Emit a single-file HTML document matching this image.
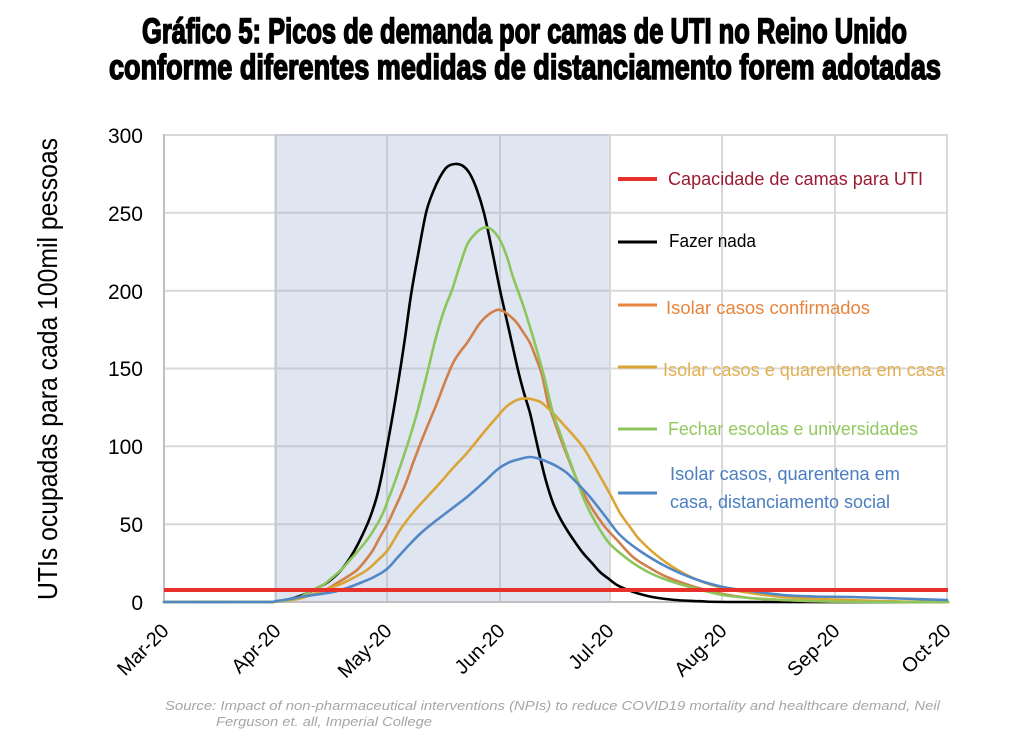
<!DOCTYPE html>
<html><head><meta charset="utf-8"><style>
html,body{margin:0;padding:0;background:#fff;width:1024px;height:751px;overflow:hidden}
svg{display:block}
</style></head><body>
<svg id="chart" width="1024" height="751" viewBox="0 0 1024 751" xmlns="http://www.w3.org/2000/svg">
<rect width="1024" height="751" fill="#fff"/>
<!-- Title -->
<g font-family="'Liberation Sans Narrow','Liberation Sans',sans-serif" font-weight="bold" font-size="35" fill="#000" stroke="#000" stroke-width="1.6">
<text x="142" y="43" textLength="765" lengthAdjust="spacingAndGlyphs">Gráfico 5: Picos de demanda por camas de UTI no Reino Unido</text>
<text x="109" y="79" textLength="832" lengthAdjust="spacingAndGlyphs">conforme diferentes medidas de distanciamento forem adotadas</text>
</g>
<!-- shading -->
<rect x="274" y="135" width="335" height="467" fill="#dfe5f1"/>
<!-- gridlines -->
<g stroke="#d9d9d9" stroke-width="2">
<line x1="164" y1="135" x2="948" y2="135"/>
<line x1="164" y1="212.8" x2="948" y2="212.8"/>
<line x1="164" y1="290.7" x2="948" y2="290.7"/>
<line x1="164" y1="368.5" x2="948" y2="368.5"/>
<line x1="164" y1="446.3" x2="948" y2="446.3"/>
<line x1="164" y1="524.2" x2="948" y2="524.2"/>
<line x1="722" y1="135" x2="722" y2="602"/>
<line x1="835" y1="135" x2="835" y2="602"/>
<line x1="947" y1="135" x2="947" y2="602"/>
<line x1="610" y1="135" x2="610" y2="602"/>
</g>
<g stroke="#c6cbd6" stroke-width="2">
<line x1="274" y1="135" x2="609" y2="135"/>
<line x1="274" y1="212.8" x2="609" y2="212.8"/>
<line x1="274" y1="290.7" x2="609" y2="290.7"/>
<line x1="274" y1="368.5" x2="609" y2="368.5"/>
<line x1="274" y1="446.3" x2="609" y2="446.3"/>
<line x1="274" y1="524.2" x2="609" y2="524.2"/>
<line x1="276" y1="135" x2="276" y2="602"/>
<line x1="387" y1="135" x2="387" y2="602"/>
<line x1="500" y1="135" x2="500" y2="602"/>
</g>
<g stroke="#c0c0c0" stroke-width="2">
<line x1="164" y1="134" x2="164" y2="603"/>
<line x1="164" y1="602" x2="948" y2="602"/>
</g>
<!-- curves -->
<g id="curves" fill="none" stroke-width="2.6" stroke-linejoin="round" stroke-linecap="round">
<polyline stroke="#000000" points="164,602 260,602 276,601.5 290,599 300,596 310,592 317,588 325,584 333,578 342,569 350,558 358,544 367,525 372,512 377,496 382,474 387,447 391,425 395,402 400,371 405,338 411,295 418,255 426,213 433,192 440,177 447,167 455,164 463,166 470,174 477,190 484,213 492,250 500,290 509,330 518,370 524,393 530,413 535,435 540,457 546,481 553,503 560,518 567,530 575,542 583,553 592,563 600,572 609,579 617,585 628,590 640,594 655,597.5 675,600 700,601.2 740,602 948,602"/>
<polyline stroke="#d2804a" points="164,602 262,602 276,601.5 290,600 300,598 317,593 327,589 337,583 347,577 357,570 365,561 373,550 380,537 388,523 394,510 400,497 407,480 413,463 418,450 423,437 430,420 437,403 445,382 453,363 460,352 467,343 474,332 480,323 488,315 497,310 503,311 510,316 517,323 523,332 530,343 536,358 542,375 548,403 554,420 560,437 568,458 577,480 585,496 593,510 605,527 617,540 633,557 650,568 667,577 695,587 723,594 750,598 783,600 830,601.5 948,602"/>
<polyline stroke="#dba536" points="164,602 262,602 276,601.5 290,600 300,598.5 317,593 330,588 343,583 355,577 367,570 377,561 387,551 394,540 400,530 408,519 417,508 428,496 440,483 453,468 467,453 480,437 490,425 497,417 505,408 513,402 520,399 527,398.5 535,400 542,403 553,413 563,424 573,435 583,447 592,462 601,478 610,494 620,513 630,527 640,540 660,558 683,573 703,582 723,588 750,593 783,597 820,599 850,600 900,601.5 948,602"/>
<polyline stroke="#8cc65a" points="164,602 262,602 276,601.5 290,599.5 300,597 313,590 323,585 333,577 342,569 350,560 358,551 367,540 375,528 383,513 388,500 393,487 400,467 407,446 412,430 417,413 423,390 428,370 434,345 440,323 446,305 452,290 460,265 467,245 474,235 483,228 491,229 500,240 507,257 513,277 523,305 533,337 539,358 545,380 549,397 553,413 560,433 567,453 575,475 583,497 591,514 600,530 609,543 620,553 633,563 650,573 667,580 690,587 723,595 750,598 783,600 830,601.5 883,602 948,602"/>
<polyline stroke="#5287c6" points="164,602 262,602 276,601 290,599 300,597 317,594.5 333,592 347,588 360,583 374,577 387,569 398,557 410,544 421,533 433,523 450,510 467,497 484,482 498,469 510,462 520,459 530,457 540,459 550,463 558,467 567,473 578,484 590,497 605,516 620,535 640,551 667,567 695,579 723,587 750,591 783,595 815,596.5 850,597 900,598.5 947,600"/>
</g>
<line x1="164" y1="590" x2="948" y2="590" stroke="#e8312b" stroke-width="4"/>
<!-- y ticks -->
<g font-family="'Liberation Sans',sans-serif" font-size="21" fill="#000" text-anchor="end">
<text x="143" y="143">300</text>
<text x="143" y="221">250</text>
<text x="143" y="299">200</text>
<text x="143" y="376">150</text>
<text x="143" y="454">100</text>
<text x="143" y="532">50</text>
<text x="143" y="610">0</text>
</g>
<!-- x ticks -->
<g font-family="'Liberation Sans',sans-serif" font-size="20" fill="#000" text-anchor="end">
<text transform="translate(170,632) rotate(-45)">Mar-20</text>
<text transform="translate(282,632) rotate(-45)">Apr-20</text>
<text transform="translate(393,632) rotate(-45)">May-20</text>
<text transform="translate(506,632) rotate(-45)">Jun-20</text>
<text transform="translate(615,632) rotate(-45)">Jul-20</text>
<text transform="translate(728,632) rotate(-45)">Aug-20</text>
<text transform="translate(841,632) rotate(-45)">Sep-20</text>
<text transform="translate(952,632) rotate(-45)">Oct-20</text>
</g>
<!-- y label -->
<text transform="translate(57,600) rotate(-90)" font-family="'Liberation Sans',sans-serif" font-size="28" fill="#000" textLength="462" lengthAdjust="spacingAndGlyphs">UTIs ocupadas para cada 100mil pessoas</text>
<!-- legend -->
<g stroke-width="3">
<line x1="618" y1="179" x2="657" y2="179" stroke="#e8312b" stroke-width="4"/>
<line x1="618" y1="242" x2="657" y2="242" stroke="#000"/>
<line x1="618" y1="305" x2="657" y2="305" stroke="#e8843c"/>
<line x1="618" y1="367" x2="657" y2="367" stroke="#dba536"/>
<line x1="618" y1="429" x2="657" y2="429" stroke="#8cc65a"/>
<line x1="618" y1="493" x2="657" y2="493" stroke="#5287c6"/>
</g>
<g font-family="'Liberation Sans',sans-serif" font-size="18">
<text x="668" y="185" fill="#9b1b30" textLength="255" lengthAdjust="spacingAndGlyphs">Capacidade de camas para UTI</text>
<text x="669" y="247" fill="#000" textLength="87" lengthAdjust="spacingAndGlyphs">Fazer nada</text>
<text x="666" y="314" fill="#e8843c" textLength="204" lengthAdjust="spacingAndGlyphs">Isolar casos confirmados</text>
<text x="663" y="376" fill="#e2b050" textLength="282" lengthAdjust="spacingAndGlyphs">Isolar casos e quarentena em casa</text>
<text x="668" y="435" fill="#92c95e" textLength="250" lengthAdjust="spacingAndGlyphs">Fechar escolas e universidades</text>
<text x="670" y="480" fill="#4a7ec0" textLength="230" lengthAdjust="spacingAndGlyphs">Isolar casos, quarentena em</text>
<text x="670" y="508" fill="#4a7ec0" textLength="220" lengthAdjust="spacingAndGlyphs">casa, distanciamento social</text>
</g>
<!-- source -->
<g font-family="'Liberation Sans',sans-serif" font-size="13" font-style="italic" fill="#a6a6a6">
<text x="165" y="710" textLength="775" lengthAdjust="spacingAndGlyphs">Source: Impact of non-pharmaceutical interventions (NPIs) to reduce COVID19 mortality and healthcare demand, Neil</text>
<text x="216" y="726" textLength="216" lengthAdjust="spacingAndGlyphs">Ferguson et. all, Imperial College</text>
</g>
</svg>
<script>
(function(){
  var NS="http://www.w3.org/2000/svg";
  var pls=document.querySelectorAll('#curves polyline');
  for(var k=0;k<pls.length;k++){
    var pl=pls[k];
    var raw=pl.getAttribute('points').trim().split(/\s+/);
    var p=[];
    for(var i=0;i<raw.length;i++){var c=raw[i].split(',');p.push([+c[0],+c[1]]);}
    var d='M'+p[0][0]+','+p[0][1];
    for(var i=0;i<p.length-1;i++){
      var p0=p[i>0?i-1:i],p1=p[i],p2=p[i+1],p3=p[i+2<p.length?i+2:i+1];
      var c1x=p1[0]+(p2[0]-p0[0])/6,c1y=p1[1]+(p2[1]-p0[1])/6;
      var c2x=p2[0]-(p3[0]-p1[0])/6,c2y=p2[1]-(p3[1]-p1[1])/6;
      d+=' C'+c1x.toFixed(2)+','+c1y.toFixed(2)+' '+c2x.toFixed(2)+','+c2y.toFixed(2)+' '+p2[0]+','+p2[1];
    }
    var path=document.createElementNS(NS,'path');
    path.setAttribute('d',d);
    path.setAttribute('stroke',pl.getAttribute('stroke'));
    pl.parentNode.replaceChild(path,pl);
  }
})();
</script>
</body></html>
